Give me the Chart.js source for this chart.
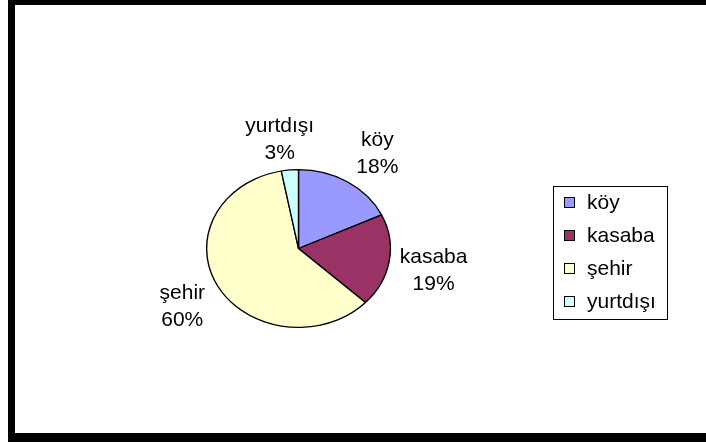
<!DOCTYPE html>
<html>
<head>
<meta charset="utf-8">
<script src="https://cdn.jsdelivr.net/npm/chart.js@4/dist/chart.umd.min.js"></script>
<style>
    body { margin: 0; background: #fff; }
    #wrap { position: relative; width: 706px; height: 442px; }
    #frame {
        position: absolute; left: 8px; top: 0; width: 698px; height: 442px;
        border-top: 5px solid #000; border-left: 7px solid #000; border-bottom: 9px solid #000;
        box-sizing: border-box; pointer-events: none;
    }
</style>
</head>
<body>
<div id="wrap">
    <canvas id="chart" width="706" height="442"></canvas>
    <div id="frame"></div>
</div>
<script>
var labels = ["köy", "kasaba", "şehir", "yurtdışı"];
var values = [18, 19, 60, 3];
var colors = ["#9999FF", "#993366", "#FFFFCC", "#CCFFFF"];

var FONT = "21px 'Liberation Sans', Arial, sans-serif";
// the pie in the picture is wider than tall
var stretchX = 92 / 79;

var stretchPlugin = {
    id: "stretch",
    beforeDatasetsDraw: function (chart) {
        var arc = chart.getDatasetMeta(0).data[0];
        var ctx = chart.ctx;
        ctx.save();
        ctx.translate(arc.x, arc.y);
        ctx.scale(stretchX, 1);
        ctx.translate(-arc.x, -arc.y);
    },
    afterDatasetsDraw: function (chart) {
        chart.ctx.restore();
    }
};

var labelPlugin = {
    id: "pieLabels",
    afterDraw: function (chart) {
        var ctx = chart.ctx;
        var total = values.reduce(function (a, b) { return a + b; }, 0);
        // small hand nudges so labels sit like excel's best fit
        var nudge = [[13, 0], [1, 4], [-7, 3], [-6, 3]];
        ctx.save();
        ctx.font = FONT;
        ctx.fillStyle = "#000";
        ctx.textAlign = "center";
        ctx.textBaseline = "middle";
        var arcs = chart.getDatasetMeta(0).data;
        for (var i = 0; i < arcs.length; i++) {
            var a = arcs[i];
            var mid = (a.startAngle + a.endAngle) / 2;
            var dx = Math.cos(mid), dy = Math.sin(mid);
            var r = a.outerRadius;
            var line1 = labels[i];
            var line2 = Math.round(values[i] / total * 100) + "%";
            var halfW = Math.max(ctx.measureText(line1).width, ctx.measureText(line2).width) / 2;
            var halfH = 26;
            var x = a.x + dx * (r * stretchX + 10) + dx * halfW + nudge[i][0];
            var y = a.y + dy * (r + 8) + dy * halfH + nudge[i][1];
            ctx.fillText(line1, x, y - 13);
            ctx.fillText(line2, x, y + 14);
        }
        // legend
        ctx.strokeStyle = "#000";
        ctx.lineWidth = 1;
        ctx.strokeRect(553.5, 186.5, 114, 133);
        ctx.textAlign = "left";
        for (var j = 0; j < labels.length; j++) {
            var cy = 203 + j * 33;
            ctx.fillStyle = colors[j];
            ctx.fillRect(564.5, cy - 5.5, 10, 10);
            ctx.strokeRect(564.5, cy - 5.5, 10, 10);
            ctx.fillStyle = "#000";
            ctx.fillText(labels[j], 587, cy);
        }
        ctx.restore();
    }
};

new Chart(document.getElementById("chart"), {
    type: "pie",
    data: {
        labels: labels,
        datasets: [{
            data: values,
            backgroundColor: colors,
            borderColor: "#000",
            borderWidth: 1.2
        }]
    },
    options: {
        responsive: false,
        animation: false,
        devicePixelRatio: 1,
        layout: { padding: { left: 219, top: 169, right: 328, bottom: 114 } },
        plugins: {
            legend: { display: false },
            tooltip: { enabled: false }
        }
    },
    plugins: [stretchPlugin, labelPlugin]
});
</script>
</body>
</html>
